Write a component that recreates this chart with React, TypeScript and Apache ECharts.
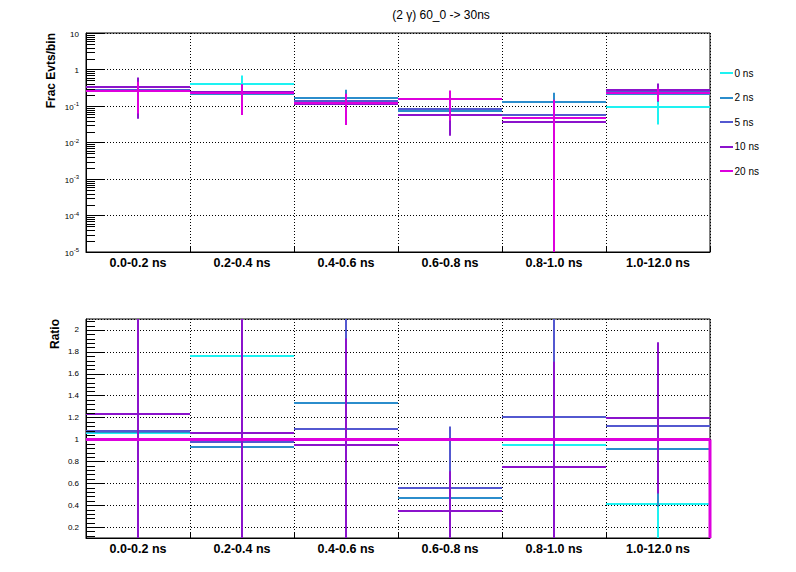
import React, { useEffect, useRef } from 'react';
import * as echarts from 'echarts';

// ---------------- data ----------------
const bins = ['0.0-0.2 ns', '0.2-0.4 ns', '0.4-0.6 ns', '0.6-0.8 ns', '0.8-1.0 ns', '1.0-12.0 ns'];
const seriesNames = ['0 ns', '2 ns', '5 ns', '10 ns', '20 ns'];
const seriesColors = ['#1ef2f2', '#2b8dcc', '#5358d0', '#8b13cc', '#dd00dd'];

// top panel: fraction of events per bin and its error
const frac0ns = [0.278, 0.39, null, null, 0.0456, 0.093];
const fracErr0ns = [0.2, 0.29, null, null, 0.04, 0.062];
const frac2ns = [0.28, 0.211, 0.17, 0.0714, 0.126, 0.207];
const fracErr2ns = [0.2, 0.14, 0.11, 0.05, 0.105, 0.075];
const frac5ns = [0.283, 0.222, 0.135, 0.0845, 0.058, 0.256];
const fracErr5ns = [0.22, 0.15, 0.08, 0.065, 0.05, 0.1];
const frac10ns = [0.325, 0.241, 0.117, 0.0552, 0.0365, 0.272];
const fracErr10ns = [0.28, 0.14, 0.08, 0.04, 0.03, 0.14];
const frac20ns = [0.262, 0.227, 0.123, 0.152, 0.048, 0.227];
const fracErr20ns = [0.2, 0.17, 0.093, 0.112, 0.1, 0.09];

// bottom panel: ratio to 20 ns and its error
const ratio0ns = [1.06, 1.763, null, null, 0.951, 0.413];
const ratioErr0ns = [1.1, 1.3, null, null, 0.9, 0.35];
const ratio2ns = [1.07, 0.93, 1.334, 0.467, 2.62, 0.915];
const ratioErr2ns = [1.1, 0.9, 0.9, 0.5, 2.0, 0.53];
const ratio5ns = [1.079, 0.978, 1.097, 0.558, 1.206, 1.121];
const ratioErr5ns = [1.1, 1.0, 1.1, 0.56, 1.1, 0.6];
const ratio10ns = [1.231, 1.06, 0.951, 0.349, 0.75, 1.197];
const ratioErr10ns = [1.5, 1.2, 0.97, 0.36, 0.96, 0.69];
const ratio20ns = [1, 1, 1, 1, 1, 1];

const fracValues = [frac0ns, frac2ns, frac5ns, frac10ns, frac20ns];
const fracErrors = [fracErr0ns, fracErr2ns, fracErr5ns, fracErr10ns, fracErr20ns];
const ratioValues = [ratio0ns, ratio2ns, ratio5ns, ratio10ns];
const ratioErrors = [ratioErr0ns, ratioErr2ns, ratioErr5ns, ratioErr10ns];

const fracMin = 1e-5;
const fracMax = 10;
const ratioMin = 0.1;
const ratioMax = 2.1;

const titleText = '(2 \u03b3) 60_0 -> 30ns';
const fracTitle = 'Frac Evts/bin';
const ratioTitle = 'Ratio';

// ---------------- helpers ----------------
const FONT = "'Liberation Sans', Arial, Helvetica, sans-serif";

const logMinorTicks: number[] = [];
for (let e = -5; e <= 0; e++) {
  for (let k = 2; k <= 9; k++) logMinorTicks.push(k * Math.pow(10, e));
}
const ratioMinorTicks: number[] = [];
for (let i = 3; i <= 52; i++) {
  if (i % 5 !== 0) ratioMinorTicks.push(Math.round(i * 4) / 100);
}

const makeErrRender = (color: string, yMin: number, yMax: number) => (params: any, api: any) => {
  const idx = api.value(0);
  const v = api.value(1);
  const e = api.value(2);
  const cs = params.coordSys;
  const bw = cs.width / bins.length;
  const clamp = (t: number) => Math.min(Math.max(t, yMin), yMax);
  const c = api.coord([idx, clamp(v)]);
  const cx = Math.round(c[0]);
  const children: any[] = [];
  if (v >= yMin && v <= yMax) {
    const y = Math.round(c[1]);
    children.push({
      type: 'line',
      shape: { x1: cx - bw / 2, y1: y, x2: cx + bw / 2, y2: y },
      style: { stroke: color, lineWidth: 2 },
    });
  }
  const lo = v - e;
  const hi = v + e;
  if (e > 0 && hi > yMin && lo < yMax) {
    const pLo = api.coord([idx, clamp(lo)]);
    const pHi = api.coord([idx, clamp(hi)]);
    children.push({
      type: 'line',
      shape: { x1: cx, y1: pHi[1], x2: cx, y2: pLo[1] },
      style: { stroke: color, lineWidth: 2 },
    });
  }
  return { type: 'group', children };
};

const makeHistRender = (color: string) => (params: any, api: any) => {
  const idx = api.value(0);
  const v = api.value(1);
  const cs = params.coordSys;
  const bw = cs.width / bins.length;
  const p = api.coord([idx, v]);
  const y = Math.round(p[1]) + 0.5;
  const children: any[] = [
    { type: 'line', shape: { x1: p[0] - bw / 2, y1: y, x2: p[0] + bw / 2, y2: y }, style: { stroke: color, lineWidth: 3 } },
  ];
  if (idx === bins.length - 1) {
    const pb = api.coord([idx, ratioMin]);
    const xr = p[0] + bw / 2;
    children.push({ type: 'line', shape: { x1: xr, y1: y, x2: xr, y2: pb[1] }, style: { stroke: color, lineWidth: 3 } });
  }
  return { type: 'group', children };
};

const makeTickRender = (len: number) => (params: any, api: any) => {
  const p = api.coord([0, api.value(1)]);
  const x0 = params.coordSys.x;
  const y = Math.round(p[1]) + 0.5;
  return { type: 'line', shape: { x1: x0, y1: y, x2: x0 + len, y2: y }, style: { stroke: '#000', lineWidth: 1 } };
};

const xAxisFor = (gridIndex: number) => ({
  type: 'category',
  gridIndex,
  data: bins,
  boundaryGap: true,
  axisLine: { show: true, onZero: false, lineStyle: { color: '#000', width: 1 } },
  axisTick: { show: true, inside: true, length: 6, interval: 0, lineStyle: { color: '#000', width: 1 } },
  axisLabel: { show: true, interval: 0, margin: 4, color: '#000', fontSize: 12.5, fontWeight: 'bold', fontFamily: FONT },
  splitLine: { show: true, interval: 0, lineStyle: { color: '#000', width: 1, type: [1, 2] } },
});

const supLabel = (v: number) => {
  const e = Math.round(Math.log10(v));
  if (e === 1) return '{b|10}';
  if (e === 0) return '{b|1}';
  return '{b|10}{s|' + e + '}';
};

export default function App() {
  const ref = useRef<HTMLDivElement>(null);

  useEffect(() => {
    if (!ref.current) return;
    const chart = echarts.init(ref.current, undefined, { renderer: 'svg' });

    const series: any[] = [];
    // top panel tick marks
    series.push({
      type: 'custom', name: 'logMinor', xAxisIndex: 0, yAxisIndex: 0, silent: true, z: 3,
      renderItem: makeTickRender(9),
      data: logMinorTicks.map((t) => [0, t]),
    });
    seriesNames.forEach((name, s) => {
      series.push({
        type: 'custom', name, xAxisIndex: 0, yAxisIndex: 0, z: 2 + s * 0.01,
        itemStyle: { color: seriesColors[s] },
        renderItem: makeErrRender(seriesColors[s], fracMin, fracMax),
        data: bins
          .map((_, i) => [i, fracValues[s][i], fracErrors[s][i]])
          .filter((d) => d[1] != null),
      });
    });
    // bottom panel
    series.push({
      type: 'custom', name: 'ratioMinor', xAxisIndex: 1, yAxisIndex: 1, silent: true, z: 3,
      renderItem: makeTickRender(9),
      data: ratioMinorTicks.map((t) => [0, t]),
    });
    ratioValues.forEach((vals, s) => {
      series.push({
        type: 'custom', name: seriesNames[s], xAxisIndex: 1, yAxisIndex: 1, z: 2 + s * 0.01,
        itemStyle: { color: seriesColors[s] },
        renderItem: makeErrRender(seriesColors[s], ratioMin, ratioMax),
        data: bins
          .map((_, i) => [i, vals[i], ratioErrors[s][i]])
          .filter((d) => d[1] != null),
      });
    });
    series.push({
      type: 'custom', name: seriesNames[4], xAxisIndex: 1, yAxisIndex: 1, z: 2.1,
      itemStyle: { color: seriesColors[4] },
      renderItem: makeHistRender(seriesColors[4]),
      data: bins.map((_, i) => [i, ratio20ns[i]]),
    });

    const legendGraphics: any[] = [];
    seriesNames.forEach((name, i) => {
      const yc = 73.3 + i * 24.5;
      legendGraphics.push({
        type: 'line', shape: { x1: 720, y1: Math.round(yc), x2: 733, y2: Math.round(yc) },
        style: { stroke: seriesColors[i], lineWidth: 2 },
      });
      legendGraphics.push({
        type: 'text', x: 734.5, y: yc,
        style: { text: name, fontSize: 10, fontFamily: FONT, fill: '#000', align: 'left', verticalAlign: 'middle' },
      });
    });

    const option: any = {
      animation: false,
      backgroundColor: '#fff',
      grid: [
        { left: 86, top: 33, width: 624, height: 219, show: true, borderColor: '#000', borderWidth: 1, backgroundColor: 'rgba(0,0,0,0)' },
        { left: 86, top: 319, width: 624, height: 219, show: true, borderColor: '#000', borderWidth: 1, backgroundColor: 'rgba(0,0,0,0)' },
      ],
      xAxis: [xAxisFor(0), xAxisFor(1)],
      yAxis: [
        {
          type: 'log', gridIndex: 0, logBase: 10, min: fracMin, max: fracMax, splitNumber: 6,
          axisLine: { show: true, onZero: false, lineStyle: { color: '#000', width: 1 } },
          axisTick: { show: true, inside: true, length: 18, lineStyle: { color: '#000', width: 1 } },
          minorTick: { show: false },
          axisLabel: {
            show: true, margin: 7, color: '#000', fontFamily: FONT,
            formatter: (v: number) => supLabel(v),
            rich: {
              b: { fontSize: 8, fontFamily: FONT, color: '#000', lineHeight: 10, verticalAlign: 'bottom' },
              s: { fontSize: 6, fontFamily: FONT, color: '#000', lineHeight: 10, verticalAlign: 'top' },
            },
          },
          splitLine: { show: true, lineStyle: { color: '#000', width: 1, type: [1, 2] } },
        },
        {
          type: 'value', gridIndex: 1, min: ratioMin, max: ratioMax, splitNumber: 10,
          axisLine: { show: true, onZero: false, lineStyle: { color: '#000', width: 1 } },
          axisTick: { show: true, inside: true, length: 18, lineStyle: { color: '#000', width: 1 } },
          minorTick: { show: false },
          axisLabel: {
            show: true, margin: 7, color: '#000', fontSize: 8, fontFamily: FONT,
            showMinLabel: false, showMaxLabel: false,
            formatter: (v: number) => String(Math.round(v * 10) / 10),
          },
          splitLine: { show: true, lineStyle: { color: '#000', width: 1, type: [1, 2] } },
        },
      ],
      series,
      graphic: [
        {
          type: 'text', x: 441, y: 14.5,
          style: { text: titleText, fontSize: 12, fontFamily: FONT, fill: '#000', align: 'center', verticalAlign: 'middle' },
        },
        {
          type: 'text', x: 51, y: 33, rotation: Math.PI / 2,
          style: { text: fracTitle, fontSize: 12, fontWeight: 'bold', fontFamily: FONT, fill: '#000', align: 'right', verticalAlign: 'middle' },
        },
        {
          type: 'text', x: 55, y: 319, rotation: Math.PI / 2,
          style: { text: ratioTitle, fontSize: 12, fontWeight: 'bold', fontFamily: FONT, fill: '#000', align: 'right', verticalAlign: 'middle' },
        },
        ...legendGraphics,
      ],
    };

    chart.setOption(option);
    return () => chart.dispose();
  }, []);

  return (
    <div
      ref={ref}
      style={{ position: 'fixed', left: 0, top: 0, width: 796, height: 572, background: '#fff' }}
    />
  );
}
